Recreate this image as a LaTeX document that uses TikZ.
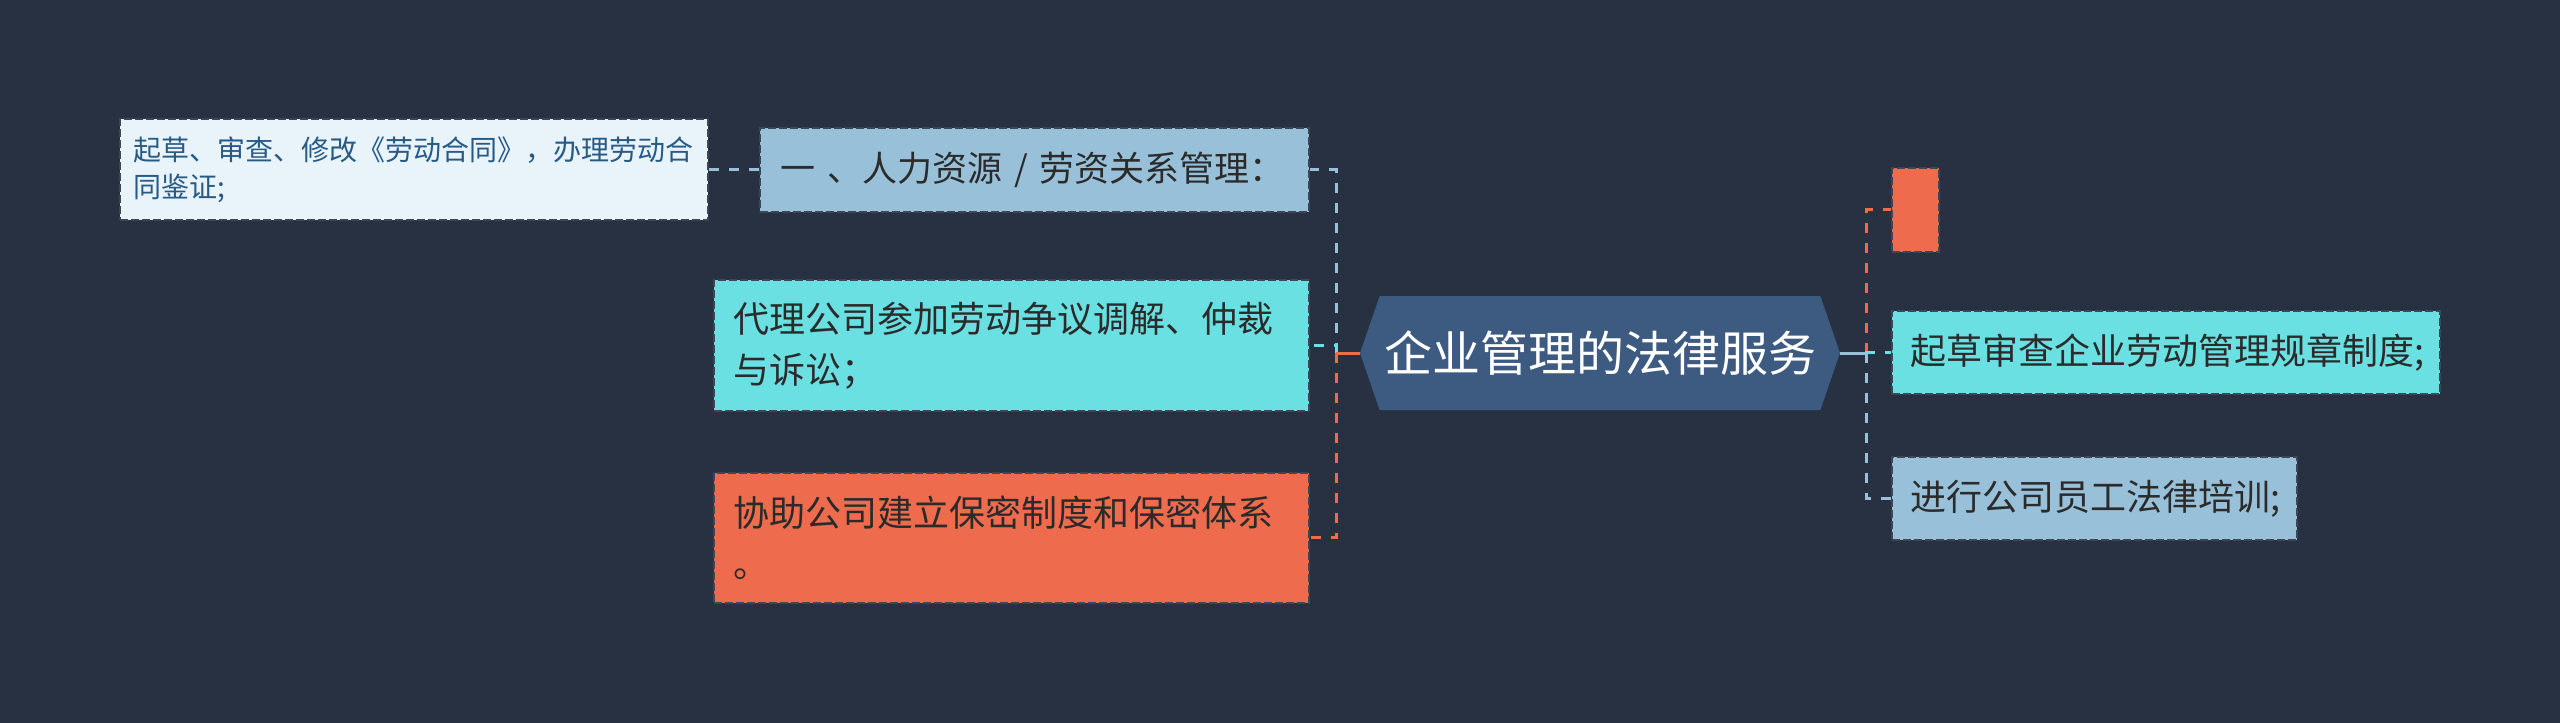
\documentclass[tikz,border=0pt]{standalone}
\usepackage{fontspec}
\setmainfont{Noto Sans CJK SC}
\usetikzlibrary{shapes.symbols}
\definecolor{bg}{HTML}{283142}
\definecolor{hexc}{HTML}{3D5A80}
\definecolor{lblue}{HTML}{98C1D9}
\definecolor{cyanc}{HTML}{6BE0E3}
\definecolor{orangec}{HTML}{EE6C4D}
\definecolor{leafc}{HTML}{E8F3FA}
\definecolor{leaftext}{HTML}{275A85}
\definecolor{boxtext}{HTML}{2B2B2B}
\tikzset{
  box/.style={rectangle, anchor=north west, inner ysep=0pt, align=left,
    draw=bg!90, line width=1.8pt, dash pattern=on 8pt off 3pt, text=boxtext,
    font=\fontsize{36}{51}\selectfont},
  conn/.style={line width=3pt, dash pattern=on 10pt off 10pt},
  stub/.style={line width=3pt, solid}
}
\begin{document}
\begin{tikzpicture}[x=1pt,y=-1pt]
\useasboundingbox (0,0) rectangle (2560,723);
\fill[bg] (0,0) rectangle (2560,723);

% center
\node[signal, signal to=east and west, signal pointer angle=142, fill=hexc,
  minimum width=480pt, minimum height=114pt, inner sep=0pt, text=white,
  font=\fontsize{48}{56}\selectfont] (hex) at (1600,353) {企业管理的法律服务};

% left side
\node[box, fill=lblue, minimum width=549pt, minimum height=84pt, inner xsep=21pt,
  text width=507pt, font=\fontsize{35}{51}\selectfont] (top) at (759,127)
  {\mbox{一 、人力资源 / 劳资关系管理：}};
\node[box, fill=cyanc, minimum width=595pt, minimum height=131pt, inner xsep=20pt,
  text width=555pt] (cy) at (713,279) {代理公司参加劳动争议调解、仲裁\\与诉讼；};
\node[box, fill=orangec, minimum width=595pt, minimum height=130pt, inner xsep=20pt,
  text width=555pt] (or) at (713,472) {协助公司建立保密制度和保密体系\\。};
\node[box, fill=leafc, text=leaftext, minimum width=588pt, minimum height=101pt,
  inner xsep=14pt, text width=560pt, font=\fontsize{28}{37}\selectfont]
  (leaf) at (119,118) {\mbox{起草、审查、修改《劳动合同》，办理劳动合}\\同鉴证;};

% right side
\node[box, fill=orangec, minimum width=47pt, minimum height=84pt, inner xsep=0pt,
  text width=47pt] (ro) at (1891,167) {};
\node[box, fill=cyanc, minimum width=548pt, minimum height=83pt, inner xsep=19pt,
  text width=510pt] (rc) at (1891,310) {起草审查企业劳动管理规章制度;};
\node[box, fill=lblue, minimum width=405pt, minimum height=83pt, inner xsep=19pt,
  text width=367pt] (rb) at (1891,456) {进行公司员工法律培训;};

\coordinate (jl) at (1336,353);
\coordinate (jr) at (1866,353);

% left connectors
\draw[conn, lblue] (jl) |- (top.east);
\draw[conn, lblue] (top.west) -- (leaf.east |- top.west);
\draw[stub, lblue] (hex.west) -- (jl);
\draw[conn, cyanc] (jl) |- (cy.east);
\draw[stub, cyanc] (hex.west) -- (jl);
\draw[conn, orangec] (jl) |- (or.east);
\draw[stub, orangec] (hex.west) -- (jl);

% right connectors
\draw[conn, orangec] (jr) |- (ro.west);
\draw[conn, cyanc] (jr) |- (rc.west);
\draw[conn, lblue] (jr) |- (rb.west);
\draw[stub, lblue] (hex.east) -- (jr);
\end{tikzpicture}
\end{document}
